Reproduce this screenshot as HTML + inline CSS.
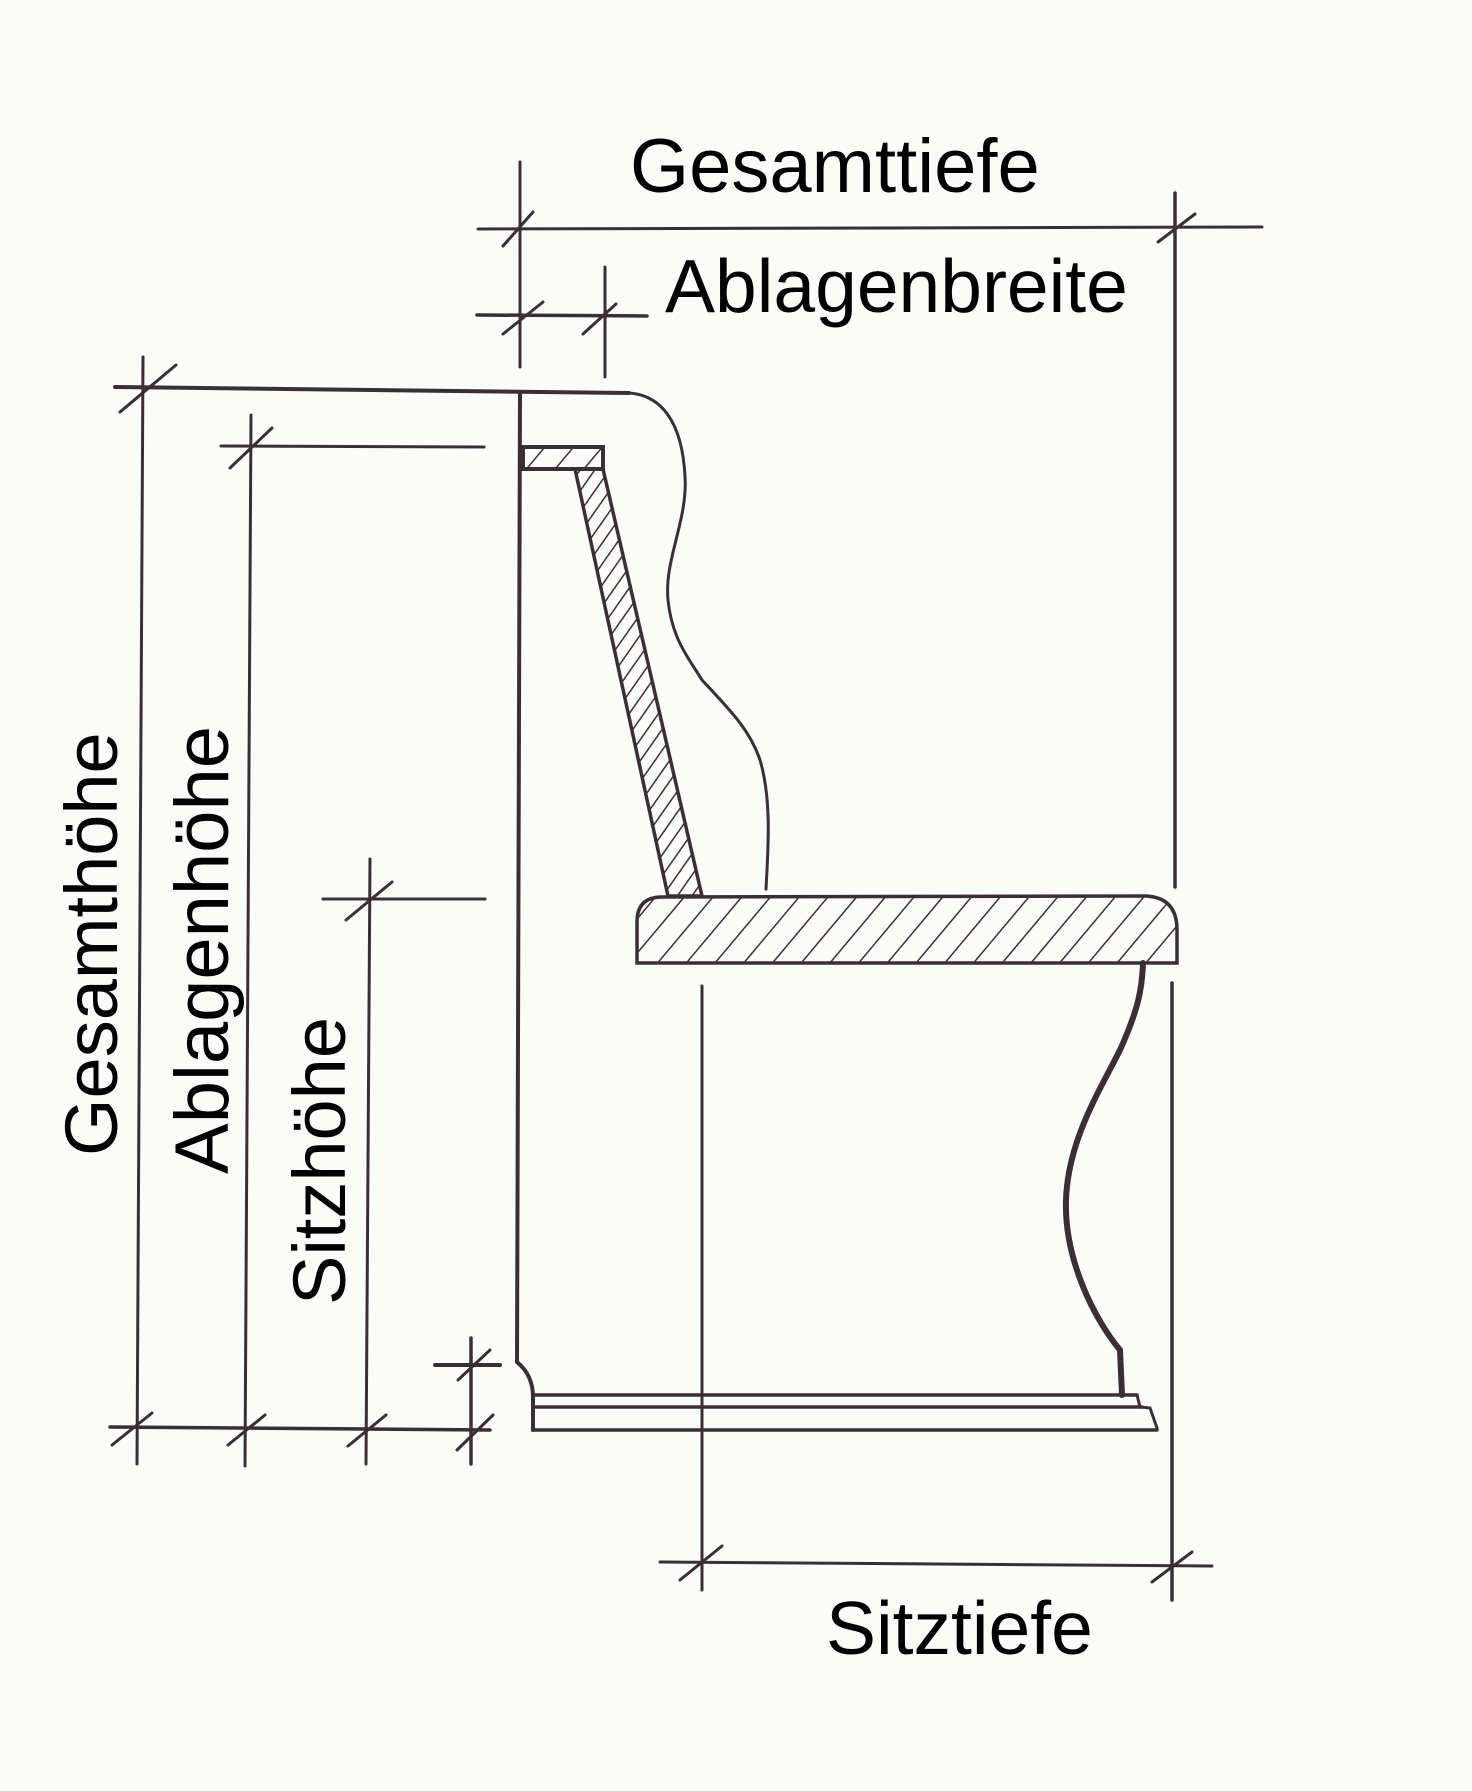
<!DOCTYPE html>
<html><head><meta charset="utf-8"><style>
html,body{margin:0;padding:0;background:#fbfbf9;}
svg{display:block;}
text{font-family:"Liberation Sans",Arial,sans-serif;fill:#000;}
</style></head><body>
<svg width="1472" height="1791" viewBox="0 0 1472 1791" xmlns="http://www.w3.org/2000/svg">
<defs>
<pattern id="h" width="22" height="22" patternUnits="userSpaceOnUse" patternTransform="rotate(40)">
<line x1="0" y1="0" x2="0" y2="22" stroke="#3a3034" stroke-width="3"/>
</pattern>
<pattern id="h2" width="12" height="12" patternUnits="userSpaceOnUse" patternTransform="rotate(35)">
<line x1="0" y1="0" x2="0" y2="12" stroke="#3a3034" stroke-width="3"/>
</pattern>
</defs>
<g stroke="#3a3034" fill="none" stroke-linecap="round">
<line x1="478" y1="229" x2="1262" y2="227" stroke-width="3"/>
<line x1="520" y1="162" x2="520" y2="367" stroke-width="3"/>
<line x1="503" y1="246" x2="533" y2="212" stroke-width="3"/>
<line x1="1175" y1="193" x2="1175" y2="887" stroke-width="3.5"/>
<line x1="1158" y1="242" x2="1195" y2="214" stroke-width="3"/>
<line x1="477" y1="315" x2="647" y2="316" stroke-width="3.5"/>
<line x1="605" y1="267" x2="605" y2="377" stroke-width="3"/>
<line x1="503" y1="334" x2="543" y2="302" stroke-width="3"/>
<line x1="583" y1="334" x2="616" y2="304" stroke-width="3"/>
<line x1="115" y1="387" x2="629" y2="393" stroke-width="4"/>
<line x1="143" y1="357" x2="137" y2="1464" stroke-width="3"/>
<line x1="120" y1="412" x2="176" y2="365" stroke-width="3"/>
<line x1="221" y1="446" x2="484" y2="447" stroke-width="3"/>
<line x1="251" y1="415" x2="245" y2="1466" stroke-width="3"/>
<line x1="230" y1="468" x2="272" y2="428" stroke-width="3"/>
<line x1="323" y1="899" x2="485" y2="899" stroke-width="3"/>
<line x1="370" y1="859" x2="366" y2="1464" stroke-width="3"/>
<line x1="346" y1="920" x2="392" y2="882" stroke-width="3"/>
<line x1="435" y1="1365" x2="500" y2="1365" stroke-width="4"/>
<line x1="471" y1="1338" x2="471" y2="1464" stroke-width="3.5"/>
<line x1="458" y1="1380" x2="490" y2="1350" stroke-width="3"/>
<line x1="110" y1="1427" x2="490" y2="1430" stroke-width="3.5"/>
<line x1="112" y1="1445" x2="152" y2="1413" stroke-width="3"/>
<line x1="228" y1="1445" x2="265" y2="1415" stroke-width="3"/>
<line x1="348" y1="1446" x2="386" y2="1415" stroke-width="3"/>
<line x1="457" y1="1450" x2="493" y2="1415" stroke-width="3"/>
<path d="M520 393 L517 1362 Q533 1375 533 1397 L533 1430" stroke-width="4"/>
<path d="M629 393 C660 395 682 420 685 476 C688 520 664 560 668 600 C672 640 690 660 702 680 C730 710 750 730 760 760 C772 800 768 850 766 889" stroke-width="3"/>
<rect x="523" y="447" width="80" height="22" fill="url(#h)" stroke-width="4"/>
<path d="M575 469 L603 469 L702 896 L668 896 Z" fill="url(#h2)" stroke-width="3.5"/>
<path d="M637 963 L637 922 Q637 897 662 897 L1145 896 Q1177 897 1177 930 L1177 963 Z" fill="url(#h)" stroke-width="3.5"/>
<path d="M1143 963 C1142 990 1138 1010 1120 1050 C1100 1090 1068 1140 1066 1200 C1064 1260 1095 1320 1120 1350 L1122 1395" stroke-width="6"/>
<line x1="533" y1="1395" x2="1137" y2="1395" stroke-width="3.5"/>
<line x1="533" y1="1407" x2="1142" y2="1407" stroke-width="3.5"/>
<line x1="533" y1="1430" x2="1157" y2="1430" stroke-width="3.5"/>
<path d="M1137 1395 L1140 1407 L1150 1408 L1157 1428" stroke-width="3"/>
<line x1="702" y1="986" x2="702" y2="1590" stroke-width="3"/>
<line x1="1172" y1="983" x2="1172" y2="1600" stroke-width="3.5"/>
<line x1="660" y1="1562" x2="1212" y2="1566" stroke-width="3"/>
<line x1="680" y1="1580" x2="722" y2="1546" stroke-width="3"/>
<line x1="1152" y1="1582" x2="1192" y2="1552" stroke-width="3"/>
</g>
<text x="630" y="192" font-size="76">Gesamttiefe</text>
<text x="665" y="312" font-size="75">Ablagenbreite</text>
<text x="826" y="1654" font-size="75">Sitztiefe</text>
<text transform="translate(117,1156) rotate(-90)" font-size="74">Gesamthöhe</text>
<text transform="translate(228,1174) rotate(-90)" font-size="76">Ablagenhöhe</text>
<text transform="translate(345,1305) rotate(-90)" font-size="74">Sitzhöhe</text>
</svg>
</body></html>
